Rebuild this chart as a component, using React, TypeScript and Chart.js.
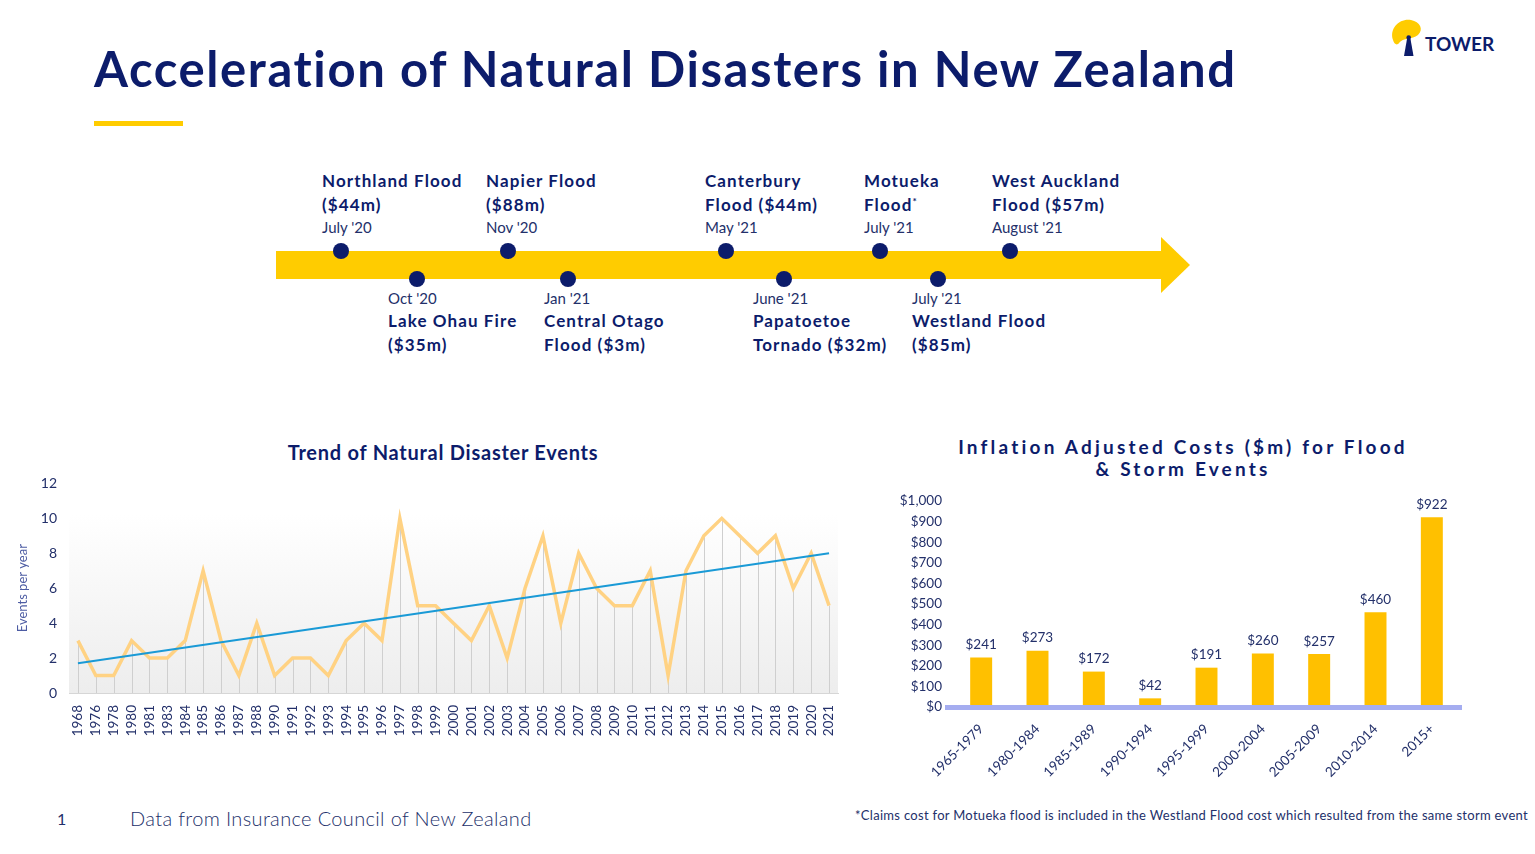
import React, { useEffect, useRef } from "react";
import { Chart, registerables } from "chart.js";

Chart.register(...registerables);

// ---- Trend of natural disaster events ----
const yearLabels = [
  "1968", "1976", "1978", "1980", "1981", "1983", "1984", "1985", "1986", "1987",
  "1988", "1990", "1991", "1992", "1993", "1994", "1995", "1996", "1997", "1998",
  "1999", "2000", "2001", "2002", "2003", "2004", "2005", "2006", "2007", "2008",
  "2009", "2010", "2011", "2012", "2013", "2014", "2015", "2016", "2017", "2018",
  "2019", "2020", "2021",
];
const eventsPerYear = [
  3, 1, 1, 3, 2, 2, 3, 7, 3, 1,
  4, 1, 2, 2, 1, 3, 4, 3, 10, 5,
  5, 4, 3, 5, 2, 6, 9, 4, 8, 6,
  5, 5, 7, 1, 7, 9, 10, 9, 8, 9,
  6, 8, 5,
];
// linear trend line end points (first and last year)
const trendFirst = 1.7;
const trendLast = 8.0;
const eventTicks = [0, 2, 4, 6, 8, 10, 12];

// ---- Inflation adjusted costs ----
const costPeriods = [
  "1965-1979", "1980-1984", "1985-1989", "1990-1994", "1995-1999",
  "2000-2004", "2005-2009", "2010-2014", "2015+",
];
const costValues = [241, 273, 172, 42, 191, 260, 257, 460, 922];
const costTickMax = 1000;
const costTickStep = 100;

// ---- Timeline of recent events ----
const eventNames = [
  ["Northland Flood", "($44m)"],
  ["Lake Ohau Fire", "($35m)"],
  ["Napier Flood", "($88m)"],
  ["Central Otago", "Flood ($3m)"],
  ["Canterbury", "Flood ($44m)"],
  ["Papatoetoe", "Tornado ($32m)"],
  ["Motueka", "Flood*"],
  ["Westland Flood", "($85m)"],
  ["West Auckland", "Flood ($57m)"],
];
const eventDates = [
  "July '20", "Oct '20", "Nov '20", "Jan '21", "May '21",
  "June '21", "July '21", "July '21", "August '21",
];
const eventAbove = [true, false, true, false, true, false, true, false, true];

// timeline layout (px)
const timelineDotX = [341, 417, 508, 568, 726, 784, 880, 938, 1010];
const timelineTextX = [322, 388, 486, 544, 705, 753, 864, 912, 992];

const NAVY = "#0c1c6b";
const TEXT = "#23306a";
const YELLOW = "#ffcc00";
const FONT = "Lato, 'Open Sans', sans-serif";

function T(props: {
  left: number;
  base: number;
  size: number;
  weight?: number;
  color?: string;
  children: React.ReactNode;
  style?: React.CSSProperties;
}) {
  const { left, base, size, weight = 400, color = NAVY, children, style } = props;
  return (
    <div
      style={{
        position: "absolute",
        left,
        top: base - 0.887 * size,
        fontSize: size,
        lineHeight: 1,
        fontWeight: weight,
        color,
        whiteSpace: "nowrap",
        fontFamily: FONT,
        ...style,
      }}
    >
      {children}
    </div>
  );
}

function TrendChart() {
  const ref = useRef<HTMLCanvasElement>(null);
  useEffect(() => {
    if (!ref.current) return;
    const trend = yearLabels.map((_, i) =>
      i === 0 ? trendFirst : i === yearLabels.length - 1 ? trendLast : null
    );
    const plotBackground = {
      id: "plotBackground",
      beforeDatasetsDraw(chart: any) {
        const { ctx, chartArea: a } = chart;
        const g = ctx.createLinearGradient(0, a.top, 0, a.bottom);
        g.addColorStop(0, "#ffffff");
        g.addColorStop(0.15, "#ffffff");
        g.addColorStop(1, "#ededed");
        ctx.save();
        ctx.fillStyle = g;
        ctx.fillRect(a.left, a.top, a.right - a.left, a.bottom - a.top);
        // drop lines from each point to the axis
        const meta = chart.getDatasetMeta(0);
        ctx.strokeStyle = "#cfcfcf";
        ctx.lineWidth = 1;
        meta.data.forEach((pt: any) => {
          const x = Math.round(pt.x) + 0.5;
          ctx.beginPath();
          ctx.moveTo(x, pt.y);
          ctx.lineTo(x, a.bottom);
          ctx.stroke();
        });
        ctx.restore();
      },
    };
    const chart = new Chart(ref.current, {
      type: "line",
      data: {
        labels: yearLabels,
        datasets: [
          {
            data: eventsPerYear,
            borderColor: "#ffd283",
            borderWidth: 3.5,
            pointRadius: 0,
            tension: 0,
            order: 2,
          },
          {
            data: trend as any,
            borderColor: "#1a9ad6",
            borderWidth: 2,
            pointRadius: 0,
            spanGaps: true,
            order: 1,
          },
        ],
      },
      options: {
        animation: false,
        responsive: false,
        layout: { padding: { top: 7, right: 12, left: 15, bottom: 0 } },
        plugins: { legend: { display: false }, tooltip: { enabled: false } },
        scales: {
          x: {
            offset: true,
            grid: { display: false },
            border: { display: true, color: "#d6d6d6" },
            ticks: {
              minRotation: 90,
              maxRotation: 90,
              autoSkip: false,
              color: TEXT,
              padding: 4,
              font: { family: FONT, size: 13.5 },
            },
            afterFit: (s: any) => {
              s.height = 57;
            },
          },
          y: {
            min: 0,
            max: 12,
            afterBuildTicks: (s: any) => {
              s.ticks = eventTicks.map((v) => ({ value: v }));
            },
            grid: { display: false, drawTicks: false },
            border: { display: false },
            ticks: {
              color: TEXT,
              padding: 12,
              font: { family: FONT, size: 14 },
            },
            title: {
              display: true,
              text: "Events per year",
              color: "#4d5ca3",
              font: { family: FONT, size: 13 },
              padding: 0,
            },
            afterFit: (s: any) => {
              s.width = 54;
            },
          },
        },
      },
      plugins: [plotBackground],
    });
    return () => chart.destroy();
  }, []);
  return (
    <canvas
      ref={ref}
      width={850}
      height={287}
      style={{ position: "absolute", left: 0, top: 463, width: 850, height: 287 }}
    />
  );
}

function CostChart() {
  const ref = useRef<HTMLCanvasElement>(null);
  useEffect(() => {
    if (!ref.current) return;
    const costTicks: number[] = [];
    for (let v = 0; v <= costTickMax; v += costTickStep) costTicks.push(v);
    const barExtras = {
      id: "barExtras",
      afterDatasetsDraw(chart: any) {
        const { ctx, chartArea: a } = chart;
        ctx.save();
        // baseline band
        ctx.fillStyle = "#a5adf0";
        ctx.fillRect(a.left - 8, a.bottom - 2, a.right - a.left + 10, 5);
        // value labels
        ctx.fillStyle = TEXT;
        ctx.font = `13.5px ${FONT}`;
        ctx.textAlign = "center";
        ctx.textBaseline = "bottom";
        chart.getDatasetMeta(0).data.forEach((bar: any, i: number) => {
          ctx.fillText("$" + costValues[i], bar.x, bar.y - 6);
        });
        ctx.restore();
      },
    };
    const chart = new Chart(ref.current, {
      type: "bar",
      data: {
        labels: costPeriods,
        datasets: [
          {
            data: costValues,
            backgroundColor: "#ffc000",
            barPercentage: 0.78,
            categoryPercentage: 0.5,
          },
        ],
      },
      options: {
        animation: false,
        responsive: false,
        layout: { padding: { top: 5, right: 20, left: 0, bottom: 0 } },
        plugins: { legend: { display: false }, tooltip: { enabled: false } },
        scales: {
          x: {
            grid: { display: false },
            border: { display: false },
            ticks: {
              minRotation: 45,
              maxRotation: 45,
              autoSkip: false,
              color: TEXT,
              padding: 6,
              font: { family: FONT, size: 13.5 },
            },
            afterFit: (s: any) => {
              s.height = 81;
            },
          },
          y: {
            min: 0,
            max: costTickMax,
            afterBuildTicks: (s: any) => {
              s.ticks = costTicks.map((v) => ({ value: v }));
            },
            grid: { display: false, drawTicks: false },
            border: { display: false },
            ticks: {
              color: TEXT,
              padding: 11,
              font: { family: FONT, size: 13.5 },
              callback: (v: any) => "$" + Number(v).toLocaleString("en-US"),
            },
            afterFit: (s: any) => {
              s.width = 73;
            },
          },
        },
      },
      plugins: [barExtras],
    });
    return () => chart.destroy();
  }, []);
  return (
    <canvas
      ref={ref}
      width={600}
      height={306}
      style={{ position: "absolute", left: 880, top: 482, width: 600, height: 306 }}
    />
  );
}

function Timeline() {
  const nameStyle: React.CSSProperties = { letterSpacing: 1.1 };
  return (
    <>
      {/* arrow band */}
      <div
        style={{
          position: "absolute",
          left: 276,
          top: 251,
          width: 886,
          height: 28,
          background: YELLOW,
        }}
      />
      <div
        style={{
          position: "absolute",
          left: 1161,
          top: 237,
          width: 0,
          height: 0,
          borderTop: "28px solid transparent",
          borderBottom: "28px solid transparent",
          borderLeft: `29px solid ${YELLOW}`,
        }}
      />
      {eventNames.map((lines, i) => {
        const up = eventAbove[i];
        const dotY = up ? 251 : 279;
        const x = timelineTextX[i];
        return (
          <React.Fragment key={i}>
            <div
              style={{
                position: "absolute",
                left: timelineDotX[i] - 8,
                top: dotY - 8,
                width: 16,
                height: 16,
                borderRadius: "50%",
                background: NAVY,
              }}
            />
            {up ? (
              <>
                <T left={x} base={187} size={17} weight={700} style={nameStyle}>
                  {lines[0]}
                </T>
                <T left={x} base={211} size={17} weight={700} style={nameStyle}>
                  {lines[1].endsWith("*") ? (
                    <>
                      {lines[1].slice(0, -1)}
                      <sup style={{ fontSize: 10, verticalAlign: 6 }}>*</sup>
                    </>
                  ) : (
                    lines[1]
                  )}
                </T>
                <T left={x} base={233} size={15} color={TEXT}>
                  {eventDates[i]}
                </T>
              </>
            ) : (
              <>
                <T left={x} base={304} size={15} color={TEXT}>
                  {eventDates[i]}
                </T>
                <T left={x} base={327} size={17} weight={700} style={nameStyle}>
                  {lines[0]}
                </T>
                <T left={x} base={351} size={17} weight={700} style={nameStyle}>
                  {lines[1]}
                </T>
              </>
            )}
          </React.Fragment>
        );
      })}
    </>
  );
}

function Logo() {
  return (
    <svg
      width={120}
      height={44}
      viewBox="0 0 120 44"
      style={{ position: "absolute", left: 1388, top: 16 }}
    >
      <path
        d="M5 24 C1 12 12 2 23 4 C32 6 36 13 30 19 C24 24 15 21 11 27 C9 30 6 28 5 24 Z"
        fill="#ffcc00"
      />
      <path d="M19 23 L22.5 23 L25.5 40 L16 40 Z" fill={NAVY} />
      <circle cx={20.7} cy={21.5} r={2.3} fill={NAVY} />
      <text
        x={37}
        y={35}
        fontFamily={FONT}
        fontWeight={700}
        fontSize={19}
        fill={NAVY}
      >
        TOWER
      </text>
    </svg>
  );
}

export default function App() {
  return (
    <div
      style={{
        position: "absolute",
        left: 0,
        top: 0,
        width: 1535,
        height: 854,
        background: "#ffffff",
        overflow: "hidden",
        fontFamily: FONT,
      }}
    >
      <T left={94} base={87} size={49} weight={700} style={{ letterSpacing: 1.6 }}>
        Acceleration of Natural Disasters in New Zealand
      </T>
      <div
        style={{
          position: "absolute",
          left: 94,
          top: 121,
          width: 89,
          height: 5,
          background: YELLOW,
        }}
      />
      <Logo />
      <Timeline />

      <div
        style={{
          position: "absolute",
          left: 243,
          width: 400,
          top: 441,
          textAlign: "center",
          fontSize: 20,
          lineHeight: "22px",
          fontWeight: 700,
          letterSpacing: 0.75,
          color: NAVY,
        }}
      >
        Trend of Natural Disaster Events
      </div>
      <TrendChart />

      <div
        style={{
          position: "absolute",
          left: 933,
          width: 500,
          top: 436,
          textAlign: "center",
          fontSize: 19,
          lineHeight: "22px",
          fontWeight: 700,
          letterSpacing: 3.2,
          color: NAVY,
        }}
      >
        Inflation Adjusted Costs ($m) for Flood
        <br />& Storm Events
      </div>
      <CostChart />

      <T left={57} base={825} size={16} color={TEXT}>
        1
      </T>
      <T
        left={130}
        base={826}
        size={20}
        weight={300}
        color={TEXT}
        style={{ letterSpacing: 0.35 }}
      >
        Data from Insurance Council of New Zealand
      </T>
      <T
        left={855}
        base={821}
        size={13}
        color={TEXT}
        style={{ letterSpacing: 0.3 }}
      >
        *Claims cost for Motueka flood is included in the Westland Flood cost which
        resulted from the same storm event
      </T>
    </div>
  );
}
